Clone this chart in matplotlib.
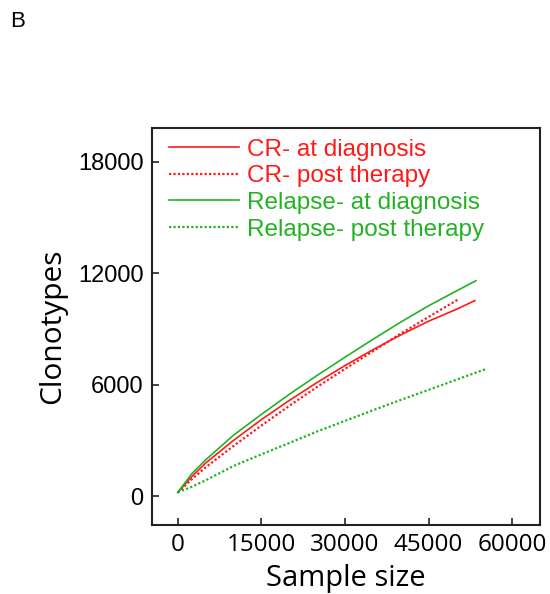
import matplotlib
matplotlib.use('Agg')
import matplotlib.pyplot as plt

# sample sizes and clonotype counts
cr_dx_x = [0, 2500, 5000, 10000, 15000, 20000, 25000, 30000, 35000, 40000, 45000, 50000, 53300]
cr_dx_y = [200, 1050, 1780, 3000, 4120, 5150, 6120, 7030, 7880, 8680, 9420, 10060, 10530]

cr_post_x = [0, 2500, 5000, 10000, 15000, 20000, 25000, 30000, 35000, 40000, 45000, 50350]
cr_post_y = [200, 900, 1550, 2700, 3800, 4860, 5880, 6850, 7800, 8750, 9650, 10600]

rel_dx_x = [0, 2500, 5000, 10000, 15000, 20000, 25000, 30000, 35000, 40000, 45000, 50000, 53500]
rel_dx_y = [200, 1200, 1950, 3280, 4400, 5480, 6500, 7480, 8440, 9370, 10250, 11050, 11600]

rel_post_x = [0, 2500, 5000, 10000, 15000, 20000, 25000, 30000, 35000, 40000, 45000, 50000, 55300]
rel_post_y = [200, 500, 850, 1620, 2250, 2860, 3480, 4050, 4620, 5180, 5720, 6270, 6846]

labels = ['CR- at diagnosis', 'CR- post therapy', 'Relapse- at diagnosis', 'Relapse- post therapy']
xticks = [0, 15000, 30000, 45000, 60000]
yticks = [0, 6000, 12000, 18000]

red = '#ff1a1a'
green = '#22b322'

fig = plt.figure(figsize=(5.5, 5.94), dpi=100)
ax = fig.add_axes([0.276, 0.116, 0.706, 0.669])

ax.plot(cr_dx_x, cr_dx_y, color=red, lw=1.2, label=labels[0])
ax.plot(cr_post_x, cr_post_y, color=red, lw=1.6, ls=(0, (1, 1)), label=labels[1])
ax.plot(rel_dx_x, rel_dx_y, color=green, lw=1.2, label=labels[2])
ax.plot(rel_post_x, rel_post_y, color=green, lw=1.6, ls=(0, (1, 1)), label=labels[3])

ax.set_xlim(-4665, 65000)
ax.set_ylim(-1563, 19840)
ax.set_xticks(xticks)
ax.set_yticks(yticks)
ax.set_xticklabels([str(t) for t in xticks], family='Open Sans', fontsize=17.5)
ax.set_yticklabels([str(t) for t in yticks], family='Liberation Sans', fontsize=17)
ax.tick_params(direction='in', length=5, width=1.2, color='#222222', pad=6)
for s in ax.spines.values():
    s.set_linewidth(1.5)
    s.set_color('#222222')

ax.set_xlabel('Sample size', family='Open Sans', fontsize=21, labelpad=5)
ax.set_ylabel('Clonotypes', family='Open Sans', fontsize=21.5, labelpad=8)

leg = ax.legend(loc='upper left', bbox_to_anchor=(0.015, 1.0), frameon=False,
                prop={'family': 'Liberation Sans', 'size': 17.5},
                handlelength=2.9, handletextpad=0.33, labelspacing=0.19,
                borderaxespad=0.1, borderpad=0.35, labelcolor=[red, red, green, green])

fig.text(0.018, 0.955, 'B', family='Liberation Sans', fontsize=16)

plt.savefig('out.png', dpi=100)
